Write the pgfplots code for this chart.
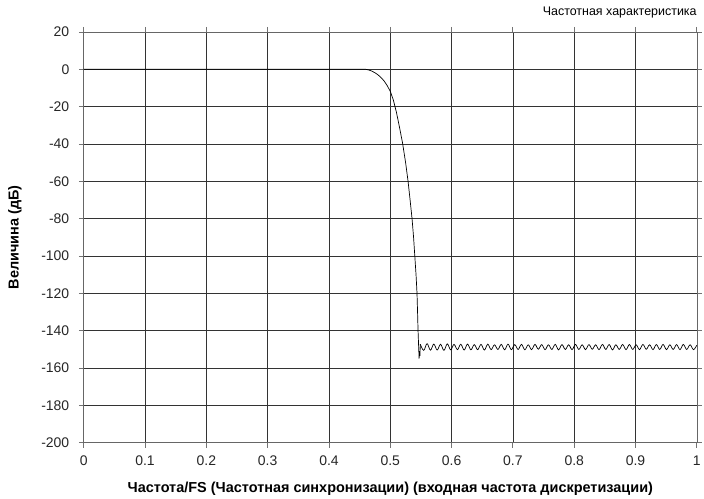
\documentclass[border=0pt]{standalone}
\usepackage{fontspec}
\setmainfont{Liberation Sans}
\usepackage{pgfplots}
\pgfplotsset{compat=1.18}
\begin{document}
\begin{tikzpicture}
\begin{axis}[
  at={(0,0)}, anchor=south west,
  scale only axis, width=615bp, height=412bp,
  xmin=0, xmax=1, ymin=-200, ymax=20,
  xtick={0,0.1,0.2,0.3,0.4,0.5,0.6,0.7,0.8,0.9,1},
  xticklabels={0,0.1,0.2,0.3,0.4,0.5,0.6,0.7,0.8,0.9,1},
  ytick={-200,-180,-160,-140,-120,-100,-80,-60,-40,-20,0,20},
  yticklabels={-200,-180,-160,-140,-120,-100,-80,-60,-40,-20,0,20},
  grid=major,
  major grid style={draw=black!80, line width=0.6bp},
  axis line style={draw=black!60, line width=0.6bp},
  tick style={draw=black!55, line width=0.8bp},
  tick align=outside, major tick length=5bp,
  ticklabel style={font=\fontsize{14bp}{16bp}\selectfont, text=black!85},
  xticklabel style={yshift=-5bp},
  yticklabel style={xshift=-6bp},
  xlabel={Частота/FS (Частотная синхронизации) (входная частота дискретизации)},
  ylabel={Величина (дБ)},
  xlabel style={font=\bfseries\fontsize{14.5bp}{16bp}\selectfont,
    at={(axis description cs:0.5,-0.1117)}, anchor=center},
  ylabel style={font=\bfseries\fontsize{14.5bp}{16bp}\selectfont,
    at={(axis description cs:-0.1122,0.5)}, anchor=center},
  clip=true,
]
% passband and transition band
\addplot[black, line width=0.7bp] coordinates {
  (0,0) (0.455,0) (0.460,-0.05) (0.465,-0.4) (0.470,-1.0) (0.475,-1.9)
  (0.480,-3.0) (0.485,-4.5) (0.490,-6.3) (0.495,-8.8) (0.500,-11.8)
  (0.505,-16.5) (0.510,-23) (0.515,-31) (0.520,-39.5) (0.525,-50)
  (0.529,-60) (0.532,-69) (0.5355,-80) (0.538,-90) (0.540,-100)
  (0.542,-110) (0.5436,-120) (0.5445,-130) (0.5453,-140) (0.5462,-148)
  (0.5470,-155) (0.5478,-151) (0.5484,-153.5) (0.5490,-147.3)
};
% stopband ripple
\addplot[black, line width=0.7bp, smooth, tension=0.6] coordinates {
  (0.5490,-147.3) (0.5545,-150.6) (0.5600,-147.0) (0.5655,-150.5)
  (0.5710,-147.2) (0.5765,-150.4) (0.5820,-147.3) (0.5875,-150.6)
  (0.5930,-147.1) (0.5985,-150.3) (0.6040,-147.4) (0.6095,-150.2)
  (0.6150,-147.3) (0.6205,-150.4) (0.6260,-147.2) (0.6315,-150.3)
  (0.6370,-147.5) (0.6425,-150.2) (0.6480,-147.4) (0.6535,-150.4)
  (0.6590,-147.3) (0.6645,-150.2) (0.6700,-147.6) (0.6755,-150.1)
  (0.6810,-147.4) (0.6865,-150.3) (0.6920,-147.3) (0.6975,-150.2)
  (0.7030,-147.5) (0.7085,-150.1) (0.7140,-147.4) (0.7195,-150.3)
  (0.7250,-147.6) (0.7305,-150.2) (0.7360,-147.4) (0.7415,-150.0)
  (0.7470,-147.5) (0.7525,-150.2) (0.7580,-147.6) (0.7635,-150.1)
  (0.7690,-147.4) (0.7745,-150.3) (0.7800,-147.5) (0.7855,-150.1)
  (0.7910,-147.6) (0.7965,-150.2) (0.8020,-147.4) (0.8075,-150.1)
  (0.8130,-147.6) (0.8185,-150.2) (0.8240,-147.5) (0.8295,-150.0)
  (0.8350,-147.6) (0.8405,-150.2) (0.8460,-147.4) (0.8515,-150.1)
  (0.8570,-147.5) (0.8625,-150.3) (0.8680,-147.6) (0.8735,-150.1)
  (0.8790,-147.4) (0.8845,-150.2) (0.8900,-147.5) (0.8955,-150.1)
  (0.9010,-147.6) (0.9065,-150.2) (0.9120,-147.4) (0.9175,-150.0)
  (0.9230,-147.6) (0.9285,-150.2) (0.9340,-147.5) (0.9395,-150.1)
  (0.9450,-147.4) (0.9505,-150.2) (0.9560,-147.6) (0.9615,-150.1)
  (0.9670,-147.5) (0.9725,-150.2) (0.9780,-147.4) (0.9835,-150.1)
  (0.9890,-147.6) (0.9945,-150.2) (1.0000,-147.8)
};
\end{axis}
\node[anchor=base east, inner sep=0pt, font=\fontsize{12.5bp}{14bp}\selectfont] at (615bp,428bp) {Частотная характеристика};
\path[use as bounding box] (-84bp,-52bp) rectangle (620bp,444bp);
\end{tikzpicture}
\end{document}
